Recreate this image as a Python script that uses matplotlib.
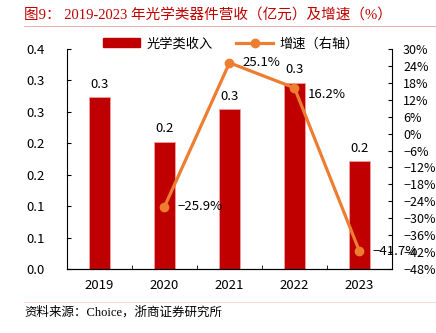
import matplotlib.pyplot as plt
from matplotlib.lines import Line2D
from matplotlib.ticker import FuncFormatter, MultipleLocator, FixedLocator, LinearLocator

plt.rcParams['font.family'] = ['Noto Sans CJK SC', 'DejaVu Sans']
plt.rcParams['axes.unicode_minus'] = True

years = ['2019', '2020', '2021', '2022', '2023']
revenue = [0.312, 0.231, 0.290, 0.338, 0.196]       # 亿元
growth = [None, -25.9, 25.1, 16.2, -41.7]           # %
bar_labels = ['0.3', '0.2', '0.3', '0.3', '0.2']

bar_color = '#C00000'
line_color = '#ED7D31'
title_color = '#C00000'
fs = 9.5

fig = plt.figure(figsize=(4.36, 3.33), dpi=100)
ax = fig.add_axes([0.1537, 0.192, 0.7453, 0.661])
x = list(range(len(years)))

ax.bar(x, revenue, width=0.31, color=bar_color, edgecolor='#F2A0A0', linewidth=0.6, zorder=2)
for xi, v, lab in zip(x, revenue, bar_labels):
    ax.text(xi, v + 0.012, lab, ha='center', va='bottom', fontsize=fs)

ax.set_xlim(-0.5, 4.5)
ax.set_ylim(0, 0.4)
ax.yaxis.set_major_locator(LinearLocator(8))
ax.yaxis.set_major_formatter(FuncFormatter(lambda v, p: f'{v:.1f}'))
ax.set_xticks(x)
ax.set_xticklabels(years)
ax.xaxis.set_minor_locator(FixedLocator([0.5, 1.5, 2.5, 3.5]))
ax.tick_params(axis='x', which='major', length=0, pad=7, labelsize=fs)
ax.tick_params(axis='x', which='minor', length=3, direction='in')
ax.tick_params(axis='y', direction='in', length=3, labelsize=fs, pad=29)
for lab in ax.get_yticklabels():
    lab.set_horizontalalignment('left')
for s in ['top', 'right']:
    ax.spines[s].set_visible(False)

ax2 = ax.twinx()
gx = [xi for xi, g in zip(x, growth) if g is not None]
gy = [g for g in growth if g is not None]
ax2.plot(gx, gy, color=line_color, linewidth=2.3, marker='o', markersize=6, zorder=3)
for xi, g in zip(gx, gy):
    dy = -2.5 if g == 16.2 else 0
    ax2.text(xi + 0.2, g + dy, f'{g:.1f}%'.replace('-', '\u2212'), ha='left', va='center', fontsize=fs)
ax2.set_ylim(-48, 30)
ax2.yaxis.set_major_locator(MultipleLocator(6))
ax2.yaxis.set_major_formatter(FuncFormatter(lambda v, p: f'{v:.0f}%'.replace('-', '\u2212')))
ax2.tick_params(axis='y', direction='in', length=3, labelsize=fs - 0.5, pad=8)
for s in ['top', 'left']:
    ax2.spines[s].set_visible(False)

handles = [plt.Rectangle((0, 0), 1, 1, color=bar_color),
           Line2D([], [], color=line_color, linewidth=2.3, marker='o', markersize=6)]
fig.legend(handles, ['光学类收入', '增速（右轴）'], loc='center', bbox_to_anchor=(0.53, 0.868),
           ncol=2, frameon=False, fontsize=fs, handlelength=2.8, columnspacing=1.8, handletextpad=0.5)

fig.text(0.055, 0.955, '图9： 2019-2023 年光学类器件营收（亿元）及增速（%）', color=title_color,
         fontsize=10.5, va='center', ha='left', family=['Liberation Serif', 'Noto Sans CJK SC'])
fig.add_artist(Line2D([0.055, 1.0], [0.922, 0.922], color='#E8A0A0', linewidth=0.6))
fig.add_artist(Line2D([0.055, 1.0], [0.093, 0.093], color='#F5D0D0', linewidth=0.6))
fig.text(0.055, 0.062, '资料来源：Choice，浙商证券研究所', fontsize=9, va='center', ha='left',
         family=['Liberation Serif', 'Noto Sans CJK SC'])

fig.savefig('out.png', dpi=100)
